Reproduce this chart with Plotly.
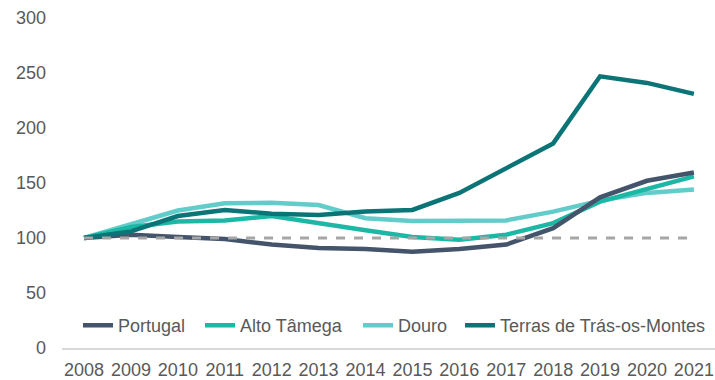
import plotly.graph_objects as go

years = list(range(2008, 2022))
portugal = [100, 103, 101, 99, 94, 91, 90, 87.5, 90, 94, 109, 137, 152, 159.5]
alto_tamega = [100, 110, 115, 116, 120, 113, 107, 101, 98.5, 103, 113.5, 133, 145, 156]
douro = [100, 113, 125, 131.5, 132, 130, 118, 115.5, 115.5, 116, 124, 134, 141, 144]
terras = [100, 106, 120, 125.5, 122, 121, 124, 125.5, 141, 164, 186, 247, 241, 231]
base = [100] * len(years)

names = ["Portugal", "Alto Tâmega", "Douro", "Terras de Trás-os-Montes"]
colors = ["#44546A", "#1CB8A6", "#62CCCA", "#0A7476"]
series = [portugal, alto_tamega, douro, terras]
legend_ids = ["legend", "legend2", "legend3", "legend4"]
legend_x = [0.0245, 0.2113, 0.4533, 0.6095]

fig = go.Figure()
draw_order = [2, 1, 0, 3]
for i in draw_order:
    fig.add_trace(go.Scatter(
        x=years, y=series[i], name=names[i], mode="lines",
        line=dict(color=colors[i], width=4.5),
        legend=legend_ids[i],
    ))
fig.add_trace(go.Scatter(
    x=years, y=base, mode="lines", showlegend=False,
    line=dict(color="#A6A6A6", width=3, dash="dash"),
))

leg_common = dict(orientation="h", y=0.068, xanchor="left", yanchor="middle",
                  bgcolor="rgba(0,0,0,0)", font=dict(size=18, color="#595959"),
                  itemwidth=30)
legends = {lid: dict(x=lx, **leg_common) for lid, lx in zip(legend_ids, legend_x)}

fig.update_layout(
    width=715, height=380,
    margin=dict(l=62, r=0, t=18, b=29),
    paper_bgcolor="white", plot_bgcolor="white",
    font=dict(family="Liberation Sans, Arial, sans-serif", size=18, color="#595959"),
    showlegend=True,
    xaxis=dict(range=[2007.53, 2021.45], tickmode="array", tickvals=years,
               ticktext=[str(y) for y in years], showgrid=False, zeroline=False,
               showline=True, linecolor="#D9D9D9", linewidth=1.5,
               ticklabelstandoff=5),
    yaxis=dict(range=[0, 300], tickvals=[0, 50, 100, 150, 200, 250, 300],
               showgrid=False, zeroline=False, showline=False,
               ticklabelstandoff=15),
    **legends,
)

fig.write_html("out.html")
